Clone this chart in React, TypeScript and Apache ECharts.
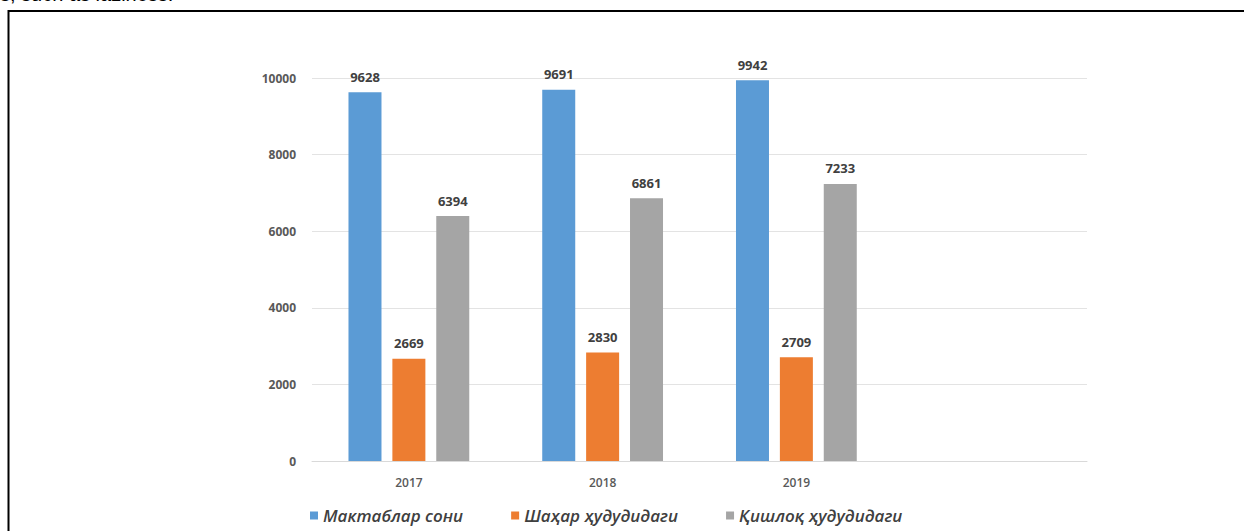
import React, { useEffect, useRef } from "react";
import * as echarts from "echarts";

const categories = ["2017", "2018", "2019", ""];
const seriesNames = ["Мактаблар сони", "Шаҳар ҳудудидаги", "Қишлоқ ҳудудидаги"];
const schools = [9628, 9691, 9942, null];
const urban = [2669, 2830, 2709, null];
const rural = [6394, 6861, 7233, null];
const colors = ["#5b9bd5", "#ed7d31", "#a5a5a5"];
const topText = "s, such as laziness.";

export default function App() {
  const ref = useRef<HTMLDivElement>(null);
  useEffect(() => {
    const chart = echarts.init(ref.current!, null, { renderer: "svg" });
    const label = {
      show: true,
      position: "top",
      distance: 9,
      color: "#404040",
      fontWeight: "bold",
      fontSize: 13,
      fontFamily: "Open Sans, Arial, sans-serif",
    };
    const mk = (name: string, data: (number | null)[], color: string) => ({
      name,
      type: "bar",
      data,
      barWidth: 33,
      barGap: "33%",
      itemStyle: { color },
      label,
    });
    chart.setOption({
      animation: false,
      backgroundColor: "#ffffff",
      grid: { left: 312, right: 157, top: 78, bottom: 70 },
      xAxis: {
        type: "category",
        data: categories,
        axisTick: { show: false },
        axisLine: { lineStyle: { color: "#d9d9d9", width: 1 } },
        axisLabel: {
          margin: 15,
          color: "#595959",
          fontSize: 12,
          fontWeight: 600,
          fontFamily: "Open Sans, Arial, sans-serif",
        },
      },
      yAxis: {
        type: "value",
        min: 0,
        max: 10000,
        interval: 2000,
        axisLine: { show: false },
        axisTick: { show: false },
        splitLine: { lineStyle: { color: "#e3e3e3", width: 1 } },
        axisLabel: {
          margin: 16,
          color: "#595959",
          fontSize: 12,
          fontWeight: "bold",
          fontFamily: "Open Sans, Arial, sans-serif",
          formatter: (v: number) => String(v),
        },
      },
      legend: {
        left: 305,
        top: 502,
        itemWidth: 8,
        itemHeight: 8,
        itemGap: 48,
        icon: "rect",
        data: seriesNames,
        textStyle: {
          color: "#404040",
          fontSize: 17,
          fontStyle: "italic",
          fontWeight: 600,
          fontFamily: "Open Sans, Arial, sans-serif",
        },
      },
      graphic: [
        {
          type: "text",
          left: 0,
          top: -16,
          style: {
            text: topText,
            fill: "#000",
            fontSize: 20,
            fontFamily: "Liberation Sans, Arial, sans-serif",
          },
        },
        {
          type: "rect",
          shape: { x: 8.5, y: 11, width: 1400, height: 700 },
          style: { fill: "none", stroke: "#000", lineWidth: 2 },
        },
      ],
      series: [
        mk(seriesNames[0], schools, colors[0]),
        mk(seriesNames[1], urban, colors[1]),
        mk(seriesNames[2], rural, colors[2]),
      ],
    });
    return () => chart.dispose();
  }, []);
  return (
    <div
      ref={ref}
      style={{ position: "fixed", left: 0, top: 0, width: 1244, height: 531 }}
    />
  );
}
